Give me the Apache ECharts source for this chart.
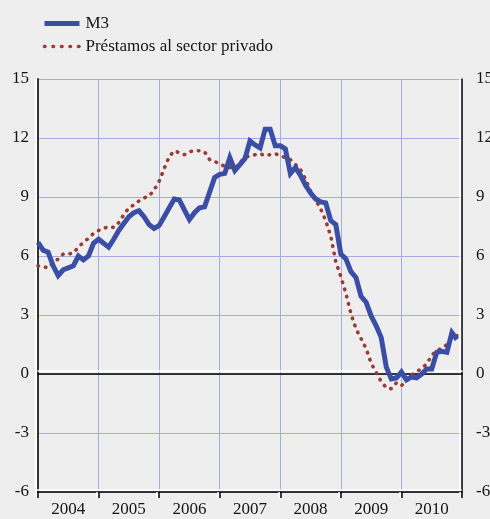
<!DOCTYPE html>
<html>
<head>
<meta charset="utf-8">
<script src="https://cdn.jsdelivr.net/npm/echarts@6/dist/echarts.min.js"></script>
<style>
  html, body { margin: 0; padding: 0; background: #eeeeee; }
  #chart { width: 490px; height: 519px; }
</style>
</head>
<body>
<div id="chart"></div>
<script>
// años del eje x (meses de ene-2004 a dic-2010)
var years = ['2004', '2005', '2006', '2007', '2008', '2009', '2010'];
var yTicks = [-6, -3, 0, 3, 6, 9, 12, 15];

// M3, variación interanual (%)
var m3 = [
  6.7, 6.3, 6.2, 5.5, 5.0, 5.3, 5.4, 5.5, 6.0, 5.8, 6.0, 6.65,
  6.85, 6.65, 6.45, 6.85, 7.3, 7.65, 8.0, 8.2, 8.3, 8.0, 7.6, 7.4,
  7.55, 8.0, 8.45, 8.9, 8.85, 8.35, 7.85, 8.2, 8.45, 8.5, 9.25, 10.0,
  10.15, 10.2, 11.0, 10.35, 10.65, 10.95, 11.85, 11.65, 11.5, 12.45, 12.45, 11.6,
  11.6, 11.45, 10.2, 10.5, 10.1, 9.6, 9.2, 8.9, 8.75, 8.7, 7.8, 7.6,
  6.1, 5.85, 5.2, 4.9, 3.95, 3.65, 2.95, 2.45, 1.85, 0.35, -0.25, -0.2,
  0.1, -0.3, -0.15, -0.2, 0.0, 0.25, 0.25, 1.1, 1.15, 1.1, 2.1, 1.75
];

// Préstamos al sector privado, variación interanual (%)
var prestamos = [
  5.5, 5.45, 5.4, 5.65, 5.85, 6.1, 6.1, 6.15, 6.45, 6.7, 6.9, 7.15,
  7.3, 7.4, 7.5, 7.45, 7.7, 8.1, 8.45, 8.6, 8.8, 8.95, 9.05, 9.35,
  9.8, 10.45, 11.05, 11.35, 11.25, 11.15, 11.3, 11.35, 11.35, 11.3, 10.9, 10.8,
  10.7, 10.55, 10.5, 10.45, 10.75, 11.0, 11.1, 11.15, 11.2, 11.1, 11.15, 11.2,
  11.1, 11.0, 10.9, 10.65, 10.4, 9.9, 9.3, 8.85, 8.4, 7.8, 7.0, 5.7,
  4.95, 4.1, 3.06, 2.3, 1.8, 1.3, 0.55, 0.08, -0.4, -0.7, -0.75, -0.45,
  -0.6, -0.3, -0.05, 0.1, 0.3, 0.5, 0.95, 1.2, 1.3, 1.5, 1.85, 1.95
];

function toPairs(arr) {
  return arr.map(function (v, i) { return [i, v]; });
}

var serif = '"Liberation Serif", "DejaVu Serif", serif';
var grid = '#a6abe0';

var myChart = echarts.init(document.getElementById('chart'));
var option = {
    backgroundColor: '#eeeeee',
    animation: false,
    legend: {
        orient: 'vertical',
        left: 37,
        top: 10,
        itemWidth: 35,
        itemHeight: 14,
        itemGap: 6,
        itemStyle: { opacity: 0 },
        textStyle: { fontFamily: serif, fontSize: 17, color: '#151515', padding: [0, 0, 0, 1] },
        data: [
            { name: 'M3', lineStyle: { width: 5 } },
            { name: 'Préstamos al sector privado', lineStyle: { width: 3.6, type: [0.5, 8] } }
        ]
    },
    grid: { left: 38, right: 28, top: 79, bottom: 27, outerBoundsMode: 'none' },
    xAxis: [
        {
            // eje de meses, con la línea del cero
            type: 'value',
            min: 0,
            max: 84,
            interval: 12,
            position: 'bottom',
            axisLine: {
                onZero: true,
                lineStyle: { color: '#000', width: 1.5, shadowColor: '#fff', shadowOffsetY: -3, shadowBlur: 0 }
            },
            axisTick: { show: false },
            axisLabel: { show: false },
            splitLine: { show: true, lineStyle: { color: grid, width: 1 } }
        },
        {
            type: 'category',
            data: years,
            position: 'bottom',
            boundaryGap: true,
            axisLine: {
                onZero: false,
                lineStyle: { color: '#000', width: 1.5, shadowColor: '#fff', shadowOffsetY: -2, shadowOffsetX: -1, shadowBlur: 0 }
            },
            axisTick: {
                show: true, interval: 0, length: 6,
                lineStyle: { color: '#000', width: 1.5, shadowColor: '#fff', shadowOffsetX: -2, shadowBlur: 0 }
            },
            axisLabel: { fontFamily: serif, fontSize: 17, color: '#151515', margin: 9 },
            splitLine: { show: false }
        }
    ],
    yAxis: [
        {
            type: 'value',
            min: -6,
            max: 15,
            interval: 3,
            position: 'left',
            axisLine: {
                show: true, onZero: false,
                lineStyle: { color: '#333', width: 2, shadowColor: '#fff', shadowOffsetX: -2, shadowBlur: 0 }
            },
            axisTick: { show: false },
            axisLabel: { fontFamily: serif, fontSize: 17, color: '#151515', margin: 9 },
            splitLine: { show: true, lineStyle: { color: grid, width: 1 } }
        },
        {
            type: 'value',
            min: -6,
            max: 15,
            interval: 3,
            position: 'right',
            axisLine: {
                show: true, onZero: false,
                lineStyle: { color: '#111', width: 1.5, shadowColor: '#fff', shadowOffsetX: -2, shadowBlur: 0 }
            },
            axisTick: { show: false },
            axisLabel: { fontFamily: serif, fontSize: 17, color: '#151515', margin: 14 },
            splitLine: { show: false }
        }
    ],
    series: [
        {
            name: 'Préstamos al sector privado',
            type: 'line',
            xAxisIndex: 0,
            yAxisIndex: 0,
            data: toPairs(prestamos),
            symbol: 'none',
            color: '#9c3b33',
            lineStyle: { color: '#9c3b33', width: 3.6, type: [0.5, 7], cap: 'round' },
            z: 3
        },
        {
            name: 'M3',
            type: 'line',
            xAxisIndex: 0,
            yAxisIndex: 0,
            data: toPairs(m3),
            symbol: 'none',
            color: '#3a4ea5',
            lineStyle: { color: '#3a4ea5', width: 5, join: 'miter' },
            z: 4
        }
    ]
};
myChart.setOption(option);
</script>
</body>
</html>
